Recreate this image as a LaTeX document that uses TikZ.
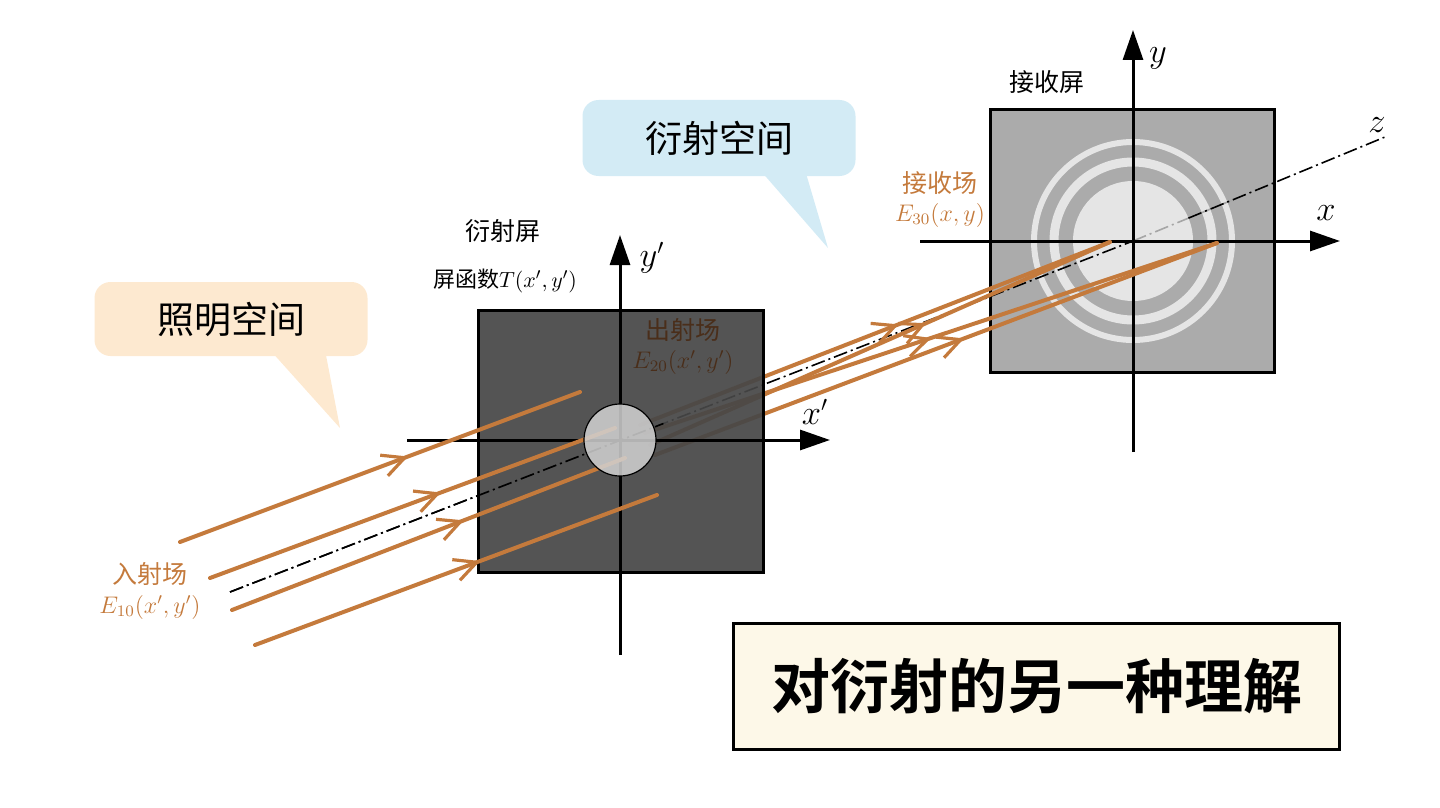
\documentclass[tikz,border=0pt]{standalone}
\usepackage{fontspec}
\newfontfamily\cjk{Noto Sans CJK SC}
\newfontfamily\cjkb{Noto Sans CJK SC Bold}
\usetikzlibrary{arrows.meta,decorations.markings,calc}
\definecolor{ray}{HTML}{C47A3C}
\definecolor{darkbr}{HTML}{4A2E1A}
\definecolor{peach}{HTML}{FDE9D0}
\definecolor{sky}{HTML}{D3EBF5}
\definecolor{cream}{HTML}{FDF8E8}
\begin{document}
\begin{tikzpicture}[x=0.5pt,y=-0.5pt,
  ray/.style={draw=ray,line width=2pt,line cap=round,postaction=decorate,
    decoration={markings,mark=at position #1 with {\arrow[ray,line width=1.6pt]{Straight Barb[length=11pt,width=11pt]}}}},
  ray/.default=0.55,
  axis/.style={line width=1.5pt,-{Triangle[length=15pt,width=10pt]}},
  zax/.style={line width=0.8pt,dash pattern=on 7pt off 2pt on 1pt off 2pt},
  lab/.style={font=\cjk\fontsize{12.5}{14}\selectfont},
  mlab/.style={font=\fontsize{12}{14}\selectfont},
  alab/.style={font=\fontsize{16}{18}\selectfont},
  callout/.style={rounded corners=8pt,draw=none,font=\cjk\fontsize{18.5}{20}\selectfont}]
\useasboundingbox (0,0) rectangle (1440,808);
% callouts
\fill[peach] (270,350) -- (340,428) -- (325,350) -- cycle;
\node[callout,fill=peach,minimum width=136.5pt,minimum height=37pt] (c1) at (231,319) {照明空间};
\fill[sky] (760,170) -- (828,248) -- (805,170) -- cycle;
\node[callout,fill=sky,minimum width=136.5pt,minimum height=38pt] (c2) at (719,138) {衍射空间};
% points
\coordinate (O1) at (620,440);
\coordinate (O2) at (1133,241);
\coordinate (P1) at (1110,242);
\coordinate (P2) at (1217,243);
% receiving screen
\fill[black!33] (990,110) rectangle (1274,372);
\draw[black!10,line width=3pt] (O2) circle (99);
\draw[black!10,line width=4.5pt] (O2) circle (79);
\fill[black!10] (O2) circle (60);
\draw[line width=1.5pt] (990,110) rectangle (1274,372);
% z axis
\coordinate (zs) at (230,592);
\coordinate (ze) at (1385,137);
\draw[zax] (zs) -- (O2);
\draw[zax,black!35] (O2) -- ($(O2)!60pt!(ze)$);
\draw[zax] ($(O2)!30pt!(ze)$) -- (ze);
\node[alab] (zl) at (1377,125) {$z$};
\draw[axis] (920,241) -- (1340,241);
\draw[axis] (1133,452) -- (1133,30);
\node[alab] (xl) at (1326,213) {$x$};
\node[alab] (yl) at (1158,58) {$y$};
% outgoing rays (under aperture screen)
\draw[ray=0.55] (640,425) -- (P1);
\draw[ray=0.5] (645,433) -- (P2);
\draw[ray=0.6] (650,445) -- (P1);
\draw[ray=0.55] (655,455) -- (P2);
% aperture screen
\fill[black!72,opacity=0.93] (478,310) rectangle (763,572);
\draw[line width=1.5pt] (478,310) rectangle (763,572);
\draw[zax] (zs) -- ($(zs)!0.48!(O2)$);
% aperture axes
\draw[axis] (407,440) -- (830,440);
\draw[axis] (620,655) -- (620,235);
\node[alab] (xp) at (815,412) {$x'$};
\node[alab] (yp) at (652,258) {$y'$};
% incident rays
\draw[ray=0.57] (180,542) -- (580,392);
\draw[ray=0.57] (210,578) -- (615,428);
\draw[ray=0.59] (232,610) -- (625,458);
\draw[ray=0.56] (255,645) -- (657,495);
% aperture
\fill[gray!35,opacity=0.85] (O1) circle (36);
\draw[line width=0.6pt] (O1) circle (36);
% labels
\node[lab] (t1) at (503,231) {衍射屏};
\node[lab,font=\cjk\fontsize{11}{13}\selectfont] (t2) at (505,281) {屏函数$T(x',y')$};
\node[lab] (t3) at (1047,82) {接收屏};
\node[lab,text=darkbr] (t4) at (683,330) {出射场};
\node[mlab,text=darkbr] (t5) at (683,362) {$E_{20}(x',y')$};
\node[lab,text=ray] (t6) at (940,183) {接收场};
\node[mlab,text=ray] (t7) at (940,215) {$E_{30}(x,y)$};
\node[lab,text=ray] (t8) at (150,574) {入射场};
\node[mlab,text=ray] (t9) at (150,607) {$E_{10}(x',y')$};
% title
\node[draw,line width=1.5pt,fill=cream,minimum width=303pt,minimum height=63pt,font=\cjkb\fontsize{29.5}{32}\selectfont] (title) at (1036.5,686) {对衍射的另一种理解};
\end{tikzpicture}
\end{document}
